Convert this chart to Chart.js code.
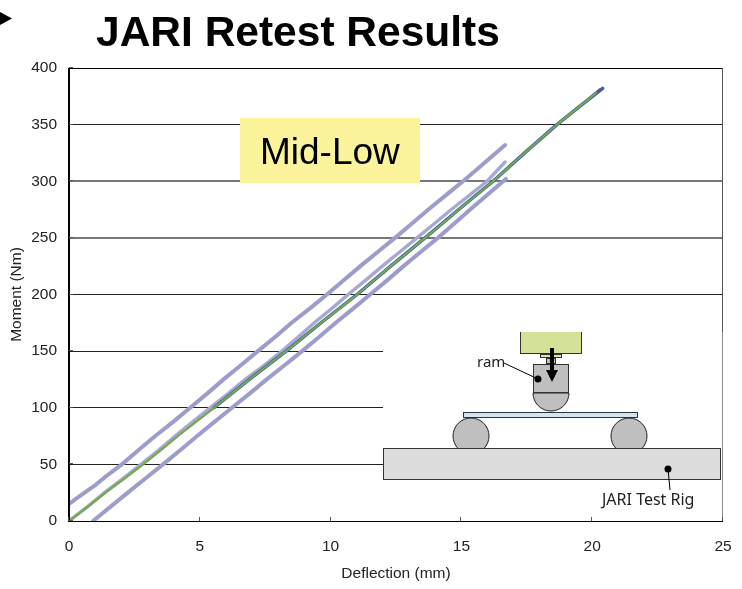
<!DOCTYPE html>
<html>
<head>
<meta charset="utf-8">
<title>JARI Retest Results</title>
<script src="https://cdn.jsdelivr.net/npm/chart.js@4/dist/chart.umd.min.js"></script>
<style>
  html, body { margin: 0; padding: 0; background: #fff; }
  canvas { display: block; }
</style>
</head>
<body>
<canvas id="retest-chart" width="742" height="589"></canvas>
<script>
// values, deflection in mm and moment in Nm
const upperDeflection = [0, 0.5, 1.02, 1.5, 2.02, 2.65, 3.32, 3.98, 4.63, 5.28, 5.93, 6.57, 7.22, 7.88, 8.53, 9.2, 9.86, 10.5, 11.16, 11.8, 12.46, 13.1, 13.76, 14.4, 15.06, 15.7, 16.67];
const upperMoment = [15, 23.5, 32, 41, 50, 62.5, 75.5, 87.5, 100, 112.5, 125.5, 137.5, 150, 162.5, 175.5, 187.5, 200, 212.5, 225.5, 237.5, 250, 262.5, 275.5, 287.5, 300, 312.5, 332];

const middleDeflection = [0, 0.7, 1.38, 2.06, 2.75, 3.42, 4.08, 4.73, 5.39, 6.08, 6.76, 7.46, 8.14, 8.76, 9.4, 10.04, 10.67, 11.33, 12, 12.64, 13.3, 13.96, 14.64, 15.3, 15.98, 16.67];
const middleMoment = [0, 12.5, 25.5, 37.5, 50, 62.5, 75.5, 87.5, 100, 112.5, 125.5, 137.5, 150, 162.5, 175.5, 187.5, 200, 212.5, 225.5, 237.5, 250, 262.5, 275.5, 287.5, 300, 317];

const lowerDeflection = [0.92, 1.58, 2.27, 2.92, 3.59, 4.25, 4.92, 5.56, 6.23, 6.9, 7.58, 8.24, 8.91, 9.56, 10.22, 10.86, 11.51, 12.16, 12.81, 13.44, 14.1, 14.72, 15.36, 15.96, 16.6, 16.7];
const lowerMoment = [0, 12.5, 25.5, 37.5, 50, 62.5, 75.5, 87.5, 100, 112.5, 125.5, 137.5, 150, 162.5, 175.5, 187.5, 200, 212.5, 225.5, 237.5, 250, 262.5, 275.5, 287.5, 300, 302];

const mainDeflection = [0, 0.71, 1.42, 2.12, 2.83, 3.5, 4.18, 4.85, 5.54, 6.22, 6.92, 7.6, 8.3, 8.97, 9.66, 10.33, 11.01, 11.66, 12.32, 12.96, 13.61, 14.26, 14.92, 15.56, 16.21, 16.82, 17.44, 18.04, 18.65, 19.46, 20.3];
const mainMoment = [0, 12.5, 25.5, 37.5, 50, 62.5, 75.5, 87.5, 100, 112.5, 125.5, 137.5, 150, 162.5, 175.5, 187.5, 200, 212.5, 225.5, 237.5, 250, 262.5, 275.5, 287.5, 300, 312.5, 325.5, 337.5, 350, 365, 381.5];

const darkDeflection = [5.54, 6.92, 8.3, 9.66, 11.01, 12.32, 13.61, 14.92, 16.21, 17.44, 18.65, 19.46, 20.4];
const darkMoment = [100, 125.5, 150, 175.5, 200, 225.5, 250, 275.5, 300, 325.5, 350, 365, 382];

const greenDeflection = [0, 0.71, 1.42, 2.12, 2.83, 3.5, 4.18, 4.85, 5.54, 6.22, 6.92, 7.6, 8.3, 8.97, 9.66, 10.33, 11.01, 11.66, 12.32, 12.96, 13.61, 14.26, 14.92, 15.56, 16.21, 16.82, 17.44, 18.04, 18.65, 19.46, 20.15];
const greenMoment = [0, 12.5, 25.5, 37.5, 50, 62.5, 75.5, 87.5, 100, 112.5, 125.5, 137.5, 150, 162.5, 175.5, 187.5, 200, 212.5, 225.5, 237.5, 250, 262.5, 275.5, 287.5, 300, 312.5, 325.5, 337.5, 350, 365, 378];

const xTicks = [0, 5, 10, 15, 20, 25];
const yTicks = [0, 50, 100, 150, 200, 250, 300, 350, 400];
const greyGridValues = [250, 300];

const FONT = '"Liberation Sans", Arial, sans-serif';
const RIG_FONT = '"Noto Sans", Verdana, sans-serif';

function toPoints(xs, ys) {
  return xs.map(function (x, i) { return { x: x, y: ys[i] }; });
}

function curve(label, xs, ys, color, width) {
  return {
    label: label,
    data: toPoints(xs, ys),
    borderColor: color,
    borderWidth: width,
    pointRadius: 0,
    showLine: true,
    tension: 0,
    borderCapStyle: "round",
    borderJoinStyle: "round",
  };
}

function box(ctx, x, y, w, h, fill, stroke) {
  ctx.fillStyle = fill;
  ctx.fillRect(x, y, w, h);
  if (stroke) {
    ctx.strokeStyle = stroke;
    ctx.lineWidth = 1;
    ctx.strokeRect(x + 0.5, y + 0.5, w - 1, h - 1);
  }
}

function roller(ctx, x, y) {
  ctx.beginPath();
  ctx.arc(x, y, 18, 0, Math.PI * 2);
  ctx.fillStyle = "#bfbfbf";
  ctx.fill();
  ctx.strokeStyle = "#222";
  ctx.lineWidth = 1;
  ctx.stroke();
}

function dot(ctx, x, y) {
  ctx.beginPath();
  ctx.arc(x, y, 3.5, 0, Math.PI * 2);
  ctx.fillStyle = "#000";
  ctx.fill();
}

function leader(ctx, x1, y1, x2, y2) {
  ctx.beginPath();
  ctx.moveTo(x1, y1);
  ctx.lineTo(x2, y2);
  ctx.strokeStyle = "#000";
  ctx.lineWidth = 1;
  ctx.stroke();
}

// sketch of the test rig, sits on a white patch over the grid
function drawRig(ctx) {
  ctx.fillStyle = "#fff";
  ctx.fillRect(383, 332, 339, 188);

  box(ctx, 520, 332, 62, 22, "#d3e296", "#333");
  ctx.fillStyle = "#d3e296";
  ctx.fillRect(521, 332, 60, 1);
  box(ctx, 540, 354, 22, 4, "#dbe6a8", "#333");
  box(ctx, 546, 358, 10, 6, "#bfbfbf", "#333");

  ctx.beginPath();
  ctx.arc(551, 393, 18, 0, Math.PI);
  ctx.closePath();
  ctx.fillStyle = "#bfbfbf";
  ctx.fill();
  ctx.strokeStyle = "#222";
  ctx.stroke();
  box(ctx, 533, 364, 36, 29, "#bfbfbf", "#333");

  box(ctx, 463, 412, 175, 6, "#cfe8f0", "#333");

  roller(ctx, 471, 436);
  roller(ctx, 629, 436);
  box(ctx, 383, 448, 338, 32, "#dcdcdc", "#333");

  // ram arrow
  ctx.fillStyle = "#000";
  ctx.fillRect(550, 348, 4, 23);
  ctx.beginPath();
  ctx.moveTo(546, 370);
  ctx.lineTo(558, 370);
  ctx.lineTo(552, 382);
  ctx.closePath();
  ctx.fill();

  leader(ctx, 504, 363, 538, 379);
  dot(ctx, 538, 379);
  leader(ctx, 668, 469, 670, 490);
  dot(ctx, 668, 469);

  ctx.fillStyle = "#222";
  ctx.textAlign = "left";
  ctx.textBaseline = "alphabetic";
  ctx.font = "15px " + RIG_FONT;
  ctx.fillText("ram", 477, 367);
  ctx.font = "16px " + RIG_FONT;
  ctx.fillText("JARI Test Rig", 602, 505);
}

const decorations = {
  id: "decorations",
  beforeDatasetsDraw: function (chart) {
    const ctx = chart.ctx;
    ctx.save();
    drawRig(ctx);

    box(ctx, 240, 118, 180, 65, "#fbf49c");
    ctx.fillStyle = "#000";
    ctx.font = "37px " + FONT;
    ctx.textAlign = "left";
    ctx.textBaseline = "alphabetic";
    ctx.fillText("Mid-Low", 260, 164);
    ctx.restore();
  },
  afterDraw: function (chart) {
    const ctx = chart.ctx;
    const a = chart.chartArea;
    ctx.save();

    ctx.fillStyle = "#000";
    ctx.font = "bold 42.5px " + FONT;
    ctx.textAlign = "left";
    ctx.textBaseline = "alphabetic";
    ctx.fillText("JARI Retest Results", 96, 46);

    // bullet arrow cut off at the page edge
    ctx.beginPath();
    ctx.moveTo(0, 12);
    ctx.lineTo(12, 18.5);
    ctx.lineTo(0, 25);
    ctx.closePath();
    ctx.fill();

    // plot frame
    ctx.fillRect(a.left - 1, a.top, 2, a.bottom - a.top + 1);
    ctx.fillRect(a.left, a.top, a.right - a.left, 1);
    ctx.fillRect(a.left, a.bottom, a.right - a.left, 1);
    ctx.fillStyle = "#555";
    ctx.fillRect(a.right - 1, a.top, 1, 264);
    ctx.fillStyle = "#888";
    ctx.fillRect(a.right - 1, a.top + 264, 1, a.bottom - a.top - 264);

    // short tick marks pointing into the plot
    ctx.fillStyle = "#555";
    xTicks.forEach(function (v) {
      ctx.fillRect(Math.round(chart.scales.x.getPixelForValue(v)) - 1, a.bottom - 4, 1, 4);
    });
    yTicks.forEach(function (v) {
      ctx.fillRect(a.left, Math.round(chart.scales.y.getPixelForValue(v)) - 1, 4, 1);
    });
    ctx.restore();
  },
};

const ctx = document.getElementById("retest-chart").getContext("2d");
new Chart(ctx, {
  type: "scatter",
  data: {
    // the first dataset is painted last
    datasets: [
      curve("Green", greenDeflection, greenMoment, "#6cb04a", 2),
      curve("Dark", darkDeflection, darkMoment, "#4a58a6", 3.4),
      curve("Main", mainDeflection, mainMoment, "#b89a9a", 2.4),
      curve("Middle", middleDeflection, middleMoment, "#a8a8d4", 3.4),
      curve("Lower", lowerDeflection, lowerMoment, "#9d9dcd", 4),
      curve("Upper", upperDeflection, upperMoment, "#9d9dcd", 4),
    ],
  },
  plugins: [decorations],
  options: {
    responsive: false,
    animation: false,
    layout: { padding: { top: 68, right: 19, left: 0, bottom: 0 } },
    plugins: {
      legend: { display: false },
      tooltip: { enabled: false },
    },
    scales: {
      x: {
        type: "linear",
        min: 0,
        max: 25,
        afterFit: function (scale) {
          scale.height = 68;
          scale.paddingRight = 0;
          scale.paddingLeft = 0;
        },
        afterBuildTicks: function (scale) {
          scale.ticks = xTicks.map(function (v) { return { value: v }; });
        },
        grid: { display: false },
        border: { display: false },
        ticks: {
          color: "#222",
          font: { family: FONT, size: 15.5 },
          padding: 8,
          maxRotation: 0,
        },
        title: {
          display: true,
          text: "Deflection (mm)",
          color: "#222",
          font: { family: FONT, size: 15.5 },
          padding: { top: 0, bottom: 6 },
        },
      },
      y: {
        type: "linear",
        min: 0,
        max: 400,
        afterFit: function (scale) { scale.width = 69; },
        afterBuildTicks: function (scale) {
          scale.ticks = yTicks.map(function (v) { return { value: v }; });
        },
        grid: {
          drawTicks: false,
          color: function (c) {
            return greyGridValues.includes(c.tick.value) ? "#777" : "#222";
          },
          lineWidth: function (c) {
            return greyGridValues.includes(c.tick.value) ? 2 : 1;
          },
        },
        border: { display: false },
        ticks: {
          color: "#222",
          font: { family: FONT, size: 15.5 },
          padding: 12,
        },
        title: {
          display: true,
          text: "Moment (Nm)",
          color: "#222",
          font: { family: FONT, size: 15.5 },
          padding: { top: 7, bottom: 0 },
        },
      },
    },
  },
});
</script>
</body>
</html>
